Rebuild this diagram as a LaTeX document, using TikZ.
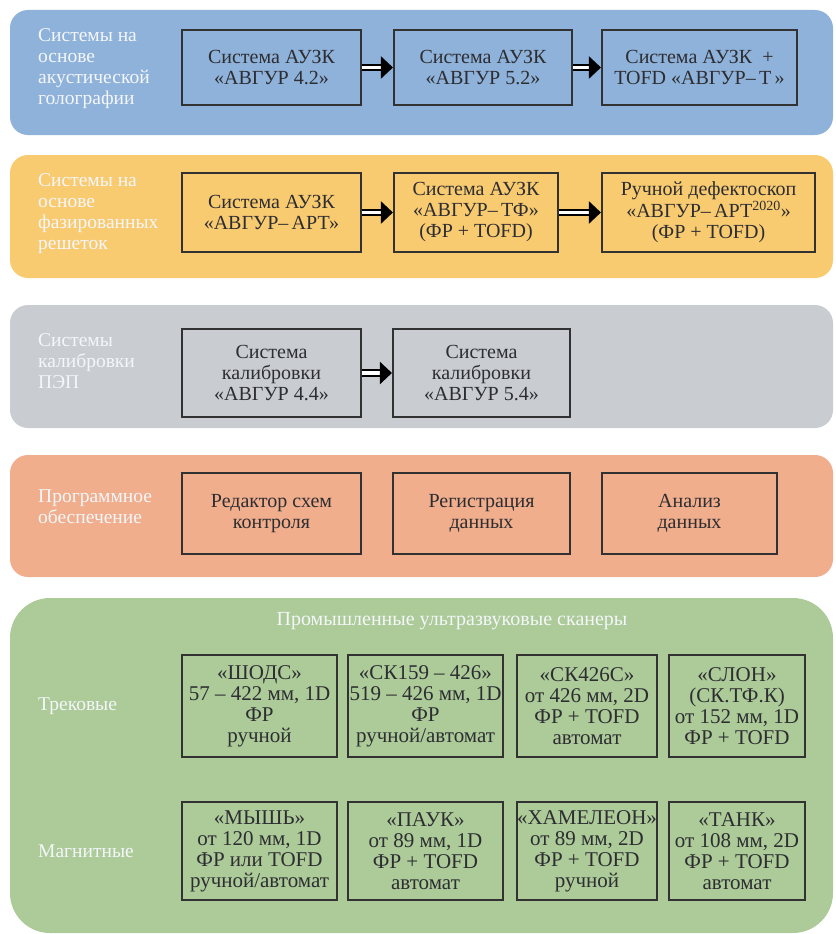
\documentclass[tikz,border=0pt]{standalone}
\usepackage{fontspec}
\setmainfont{Liberation Serif}
\usetikzlibrary{arrows.meta}
\definecolor{cblue}{RGB}{142,178,217}
\definecolor{cyellow}{RGB}{249,203,112}
\definecolor{cgray}{RGB}{201,205,210}
\definecolor{csalmon}{RGB}{240,174,140}
\definecolor{cgreen}{RGB}{172,203,152}
\definecolor{lblwhite}{RGB}{244,246,250}
\definecolor{boxtext}{RGB}{45,45,50}
\definecolor{boxline}{RGB}{50,50,50}
\tikzset{
  band/.style={fill=#1, draw=none, rounded corners=18pt},
  lbl/.style={anchor=west, align=left, text=lblwhite, inner sep=0pt, font=\rmfamily\fontsize{19.5}{21}\selectfont},
  bx/.style={draw=boxline, line width=1.1pt, align=center, text=boxtext, inner sep=0pt, font=\rmfamily\fontsize{20}{21}\selectfont},
  gbx/.style={bx, font=\rmfamily\fontsize{21}{21}\selectfont},
  dbl/.style={draw=black, double=white, double distance=3.2pt, line width=2.2pt, -{Triangle[length=12pt,width=22pt]}, shorten <=0.5pt, shorten >=0.5pt}
}
\begin{document}
\begin{tikzpicture}[x=1pt,y=-1pt]
\useasboundingbox (0,0) rectangle (835,934);
% bands
\fill[band=cblue] (10,10) rectangle (833,135);
\fill[band=cyellow] (10,155) rectangle (833,278);
\fill[band=cgray] (10,305) rectangle (833,428);
\fill[band=csalmon] (10,455) rectangle (833,577);
\fill[band=cgreen, rounded corners=40pt] (10,598) rectangle (833,933);

% labels
\node[lbl] (l1) at (38,69) {Системы на\\основе\\акустической\\голографии};
\node[lbl] (l2) at (38,214) {Системы на\\основе\\фазированных\\решеток};
\node[lbl] (l3) at (38,361) {Системы\\калибровки\\ПЭП};
\node[lbl] (l4) at (38,507) {Программное\\обеспечение};
\node[lbl] (l5) at (38,706) {Трековые};
\node[lbl] (l6) at (38,851) {Магнитные};
\node[text=lblwhite, inner sep=0pt, font=\rmfamily\fontsize{20}{21}\selectfont] (title) at (452,621) {Промышленные ультразвуковые сканеры};

% blue row
\node[bx, minimum width=179pt, minimum height=75pt] (b1) at (271.5,67.5) {Система АУЗК\\«АВГУР 4.2»};
\node[bx, minimum width=178pt, minimum height=75pt] (b2) at (483,67.5) {Система АУЗК\\«АВГУР 5.2»};
\node[bx, minimum width=195pt, minimum height=75pt] (b3) at (699.5,67.5) {Система АУЗК\ \ +\\TOFD «АВГУР–\,Т\,»};
\draw[dbl] (b1) -- (b2);
\draw[dbl] (b2) -- (b3);

% yellow row
\node[bx, minimum width=179pt, minimum height=79pt] (y1) at (271.5,212.5) {Система АУЗК\\«АВГУР–\,АРТ»};
\node[bx, minimum width=164pt, minimum height=79pt] (y2) at (476,212.5) {Система АУЗК\\«АВГУР–\,ТФ»\\(ФР + TOFD)};
\node[bx, minimum width=213pt, minimum height=79pt] (y3) at (708.5,212.5) {Ручной дефектоскоп\\«АВГУР–\,АРТ\textsuperscript{2020}»\\(ФР + TOFD)};
\draw[dbl] (y1) -- (y2);
\draw[dbl] (y2) -- (y3);

% gray row
\node[bx, minimum width=179pt, minimum height=88pt] (g1) at (271.5,373) {Система\\калибровки\\«АВГУР 4.4»};
\node[bx, minimum width=177pt, minimum height=88pt] (g2) at (481.5,373) {Система\\калибровки\\«АВГУР 5.4»};
\draw[dbl] (g1) -- (g2);

% salmon row
\node[bx, minimum width=179pt, minimum height=81pt] (s1) at (271.5,513.5) {Редактор схем\\контроля};
\node[bx, minimum width=177pt, minimum height=81pt] (s2) at (481.5,513.5) {Регистрация\\данных};
\node[bx, minimum width=175pt, minimum height=81pt] (s3) at (689.5,513.5) {Анализ\\данных};

% green row 1
\node[gbx, minimum width=155pt, minimum height=102pt] (t1) at (259.5,706) {«ШОДС»\\57 – 422 мм, 1D\\ФР\\ручной};
\node[gbx, minimum width=155pt, minimum height=102pt] (t2) at (425.5,706) {«СК159 – 426»\\519 – 426 мм, 1D\\ФР\\ручной/автомат};
\node[gbx, minimum width=140pt, minimum height=102pt] (t3) at (587,706) {«СК426С»\\от 426 мм, 2D\\ФР + TOFD\\автомат};
\node[gbx, minimum width=136pt, minimum height=102pt] (t4) at (737,706) {«СЛОН»\\(СК.ТФ.К)\\от 152 мм, 1D\\ФР + TOFD};

% green row 2
\node[gbx, minimum width=155pt, minimum height=98pt] (m1) at (259.5,851) {«МЫШЬ»\\от 120 мм, 1D\\ФР или TOFD\\ручной/автомат};
\node[gbx, minimum width=155pt, minimum height=98pt] (m2) at (425.5,851) {«ПАУК»\\от 89 мм, 1D\\ФР + TOFD\\автомат};
\node[gbx, minimum width=140pt, minimum height=98pt] (m3) at (587,851) {«ХАМЕЛЕОН»\\от 89 мм, 2D\\ФР + TOFD\\ручной};
\node[gbx, minimum width=136pt, minimum height=98pt] (m4) at (737,851) {«ТАНК»\\от 108 мм, 2D\\ФР + TOFD\\автомат};
\end{tikzpicture}
\end{document}
